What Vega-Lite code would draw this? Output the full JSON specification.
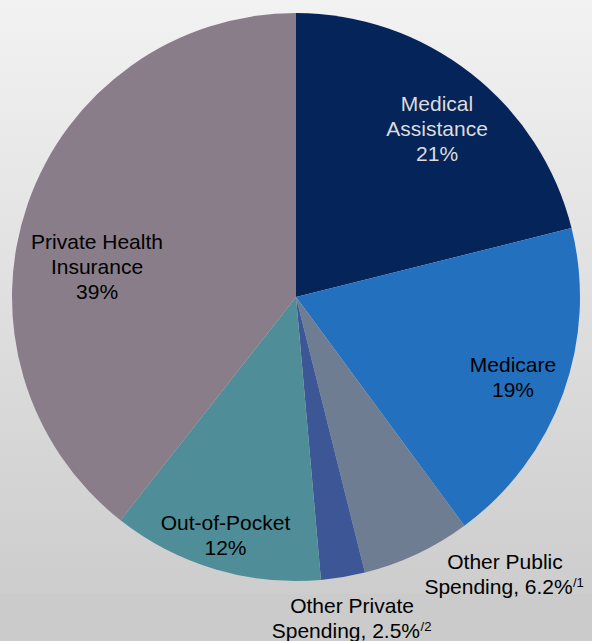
{
  "$schema": "https://vega.github.io/schema/vega-lite/v6.json",
  "width": 592,
  "height": 594,
  "autosize": {"type": "none"},
  "padding": {"left": 0, "top": 0, "right": 0, "bottom": 47},
  "background": "#cbcbcb",
  "config": {"view": {"stroke": null}, "text": {"font": "Liberation Sans"}},
  "data": {"values": [
    {"category": "Medical Assistance", "value": 21.1, "rank": 1},
    {"category": "Medicare", "value": 18.8, "rank": 2},
    {"category": "Other Public Spending", "value": 6.2, "rank": 3},
    {"category": "Other Private Spending", "value": 2.5, "rank": 4},
    {"category": "Out-of-Pocket", "value": 12.0, "rank": 5},
    {"category": "Private Health Insurance", "value": 39.4, "rank": 6}
  ]},
  "transform": [
    {"stack": "value", "groupby": [], "sort": [{"field": "rank", "order": "ascending"}], "as": ["start", "end"]},
    {"calculate": "(datum.start + datum.end) / 2", "as": "mid"}
  ],
  "layer": [
    {
      "mark": {"type": "rect", "color": {"gradient": "linear", "x1": 0, "y1": 0, "x2": 0, "y2": 1, "stops": [{"offset": 0, "color": "#f2f2f2"}, {"offset": 1, "color": "#cdcdcd"}]}},
      "encoding": {}
    },
    {
      "mark": {"type": "arc", "outerRadius": 284},
      "encoding": {
        "theta": {"field": "start", "type": "quantitative", "scale": {"domain": [0, 100]}, "stack": null},
        "theta2": {"field": "end"},
        "color": {"field": "category", "type": "nominal", "legend": null,
          "scale": {"domain": ["Medical Assistance", "Medicare", "Other Public Spending", "Other Private Spending", "Out-of-Pocket", "Private Health Insurance"],
                    "range": ["#05245a", "#2370be", "#6f7d93", "#3d5796", "#4f8e98", "#897d8a"]}}
      }
    },
    {
      "transform": [{"filter": "datum.category == 'Medical Assistance'"}],
      "mark": {"type": "text", "text": ["Medical", "Assistance", "21%"], "fontSize": 21, "lineHeight": 25, "align": "center", "baseline": "alphabetic", "color": "#dcdcdc", "dx": -0.5, "dy": -5},
      "encoding": {"theta": {"field": "mid", "type": "quantitative", "stack": null}, "radius": {"value": 230}}
    },
    {
      "transform": [{"filter": "datum.category == 'Medicare'"}],
      "mark": {"type": "text", "text": ["Medicare", "19%"], "fontSize": 21, "lineHeight": 25, "align": "center", "baseline": "alphabetic", "color": "#000000", "dx": 0.6, "dy": -3.4},
      "encoding": {"theta": {"field": "mid", "type": "quantitative", "stack": null}, "radius": {"value": 230}}
    },
    {
      "transform": [{"filter": "datum.category == 'Private Health Insurance'"}],
      "mark": {"type": "text", "text": ["Private Health", "Insurance", "39%"], "fontSize": 21, "lineHeight": 25, "align": "center", "baseline": "alphabetic", "color": "#000000", "dx": -0.5, "dy": 21},
      "encoding": {"theta": {"field": "mid", "type": "quantitative", "stack": null}, "radius": {"value": 210}}
    },
    {
      "transform": [{"filter": "datum.category == 'Out-of-Pocket'"}],
      "mark": {"type": "text", "text": ["Out-of-Pocket", "12%"], "fontSize": 21, "lineHeight": 25, "align": "center", "baseline": "alphabetic", "color": "#000000", "dx": -0.7, "dy": -2.3},
      "encoding": {"theta": {"field": "mid", "type": "quantitative", "stack": null}, "radius": {"value": 245}}
    },
    {
      "transform": [{"filter": "datum.category == 'Other Public Spending'"}],
      "mark": {"type": "text", "text": "Other Public", "fontSize": 21, "align": "center", "baseline": "alphabetic", "color": "#000000", "dx": 77, "dy": -8.2},
      "encoding": {"theta": {"field": "mid", "type": "quantitative", "stack": null}, "radius": {"value": 310}}
    },
    {
      "transform": [{"filter": "datum.category == 'Other Public Spending'"}],
      "mark": {"type": "text", "text": "Spending, 6.2%", "fontSize": 21, "align": "right", "baseline": "alphabetic", "color": "#000000", "dx": 144.7, "dy": 16.5},
      "encoding": {"theta": {"field": "mid", "type": "quantitative", "stack": null}, "radius": {"value": 310}}
    },
    {
      "transform": [{"filter": "datum.category == 'Other Public Spending'"}],
      "mark": {"type": "text", "text": "/1", "fontSize": 13, "align": "left", "baseline": "alphabetic", "color": "#000000", "dx": 145, "dy": 9.5},
      "encoding": {"theta": {"field": "mid", "type": "quantitative", "stack": null}, "radius": {"value": 310}}
    },
    {
      "transform": [{"filter": "datum.category == 'Other Private Spending'"}],
      "mark": {"type": "text", "text": "Other Private", "fontSize": 21, "align": "center", "baseline": "alphabetic", "color": "#000000", "dx": 3, "dy": 0.9},
      "encoding": {"theta": {"field": "mid", "type": "quantitative", "stack": null}, "radius": {"value": 320}}
    },
    {
      "transform": [{"filter": "datum.category == 'Other Private Spending'"}],
      "mark": {"type": "text", "text": "Spending, 2.5%", "fontSize": 21, "align": "right", "baseline": "alphabetic", "color": "#000000", "dx": 71, "dy": 25.9},
      "encoding": {"theta": {"field": "mid", "type": "quantitative", "stack": null}, "radius": {"value": 320}}
    },
    {
      "transform": [{"filter": "datum.category == 'Other Private Spending'"}],
      "mark": {"type": "text", "text": "/2", "fontSize": 13, "align": "left", "baseline": "alphabetic", "color": "#000000", "dx": 71.5, "dy": 18.4},
      "encoding": {"theta": {"field": "mid", "type": "quantitative", "stack": null}, "radius": {"value": 320}}
    }
  ]
}
